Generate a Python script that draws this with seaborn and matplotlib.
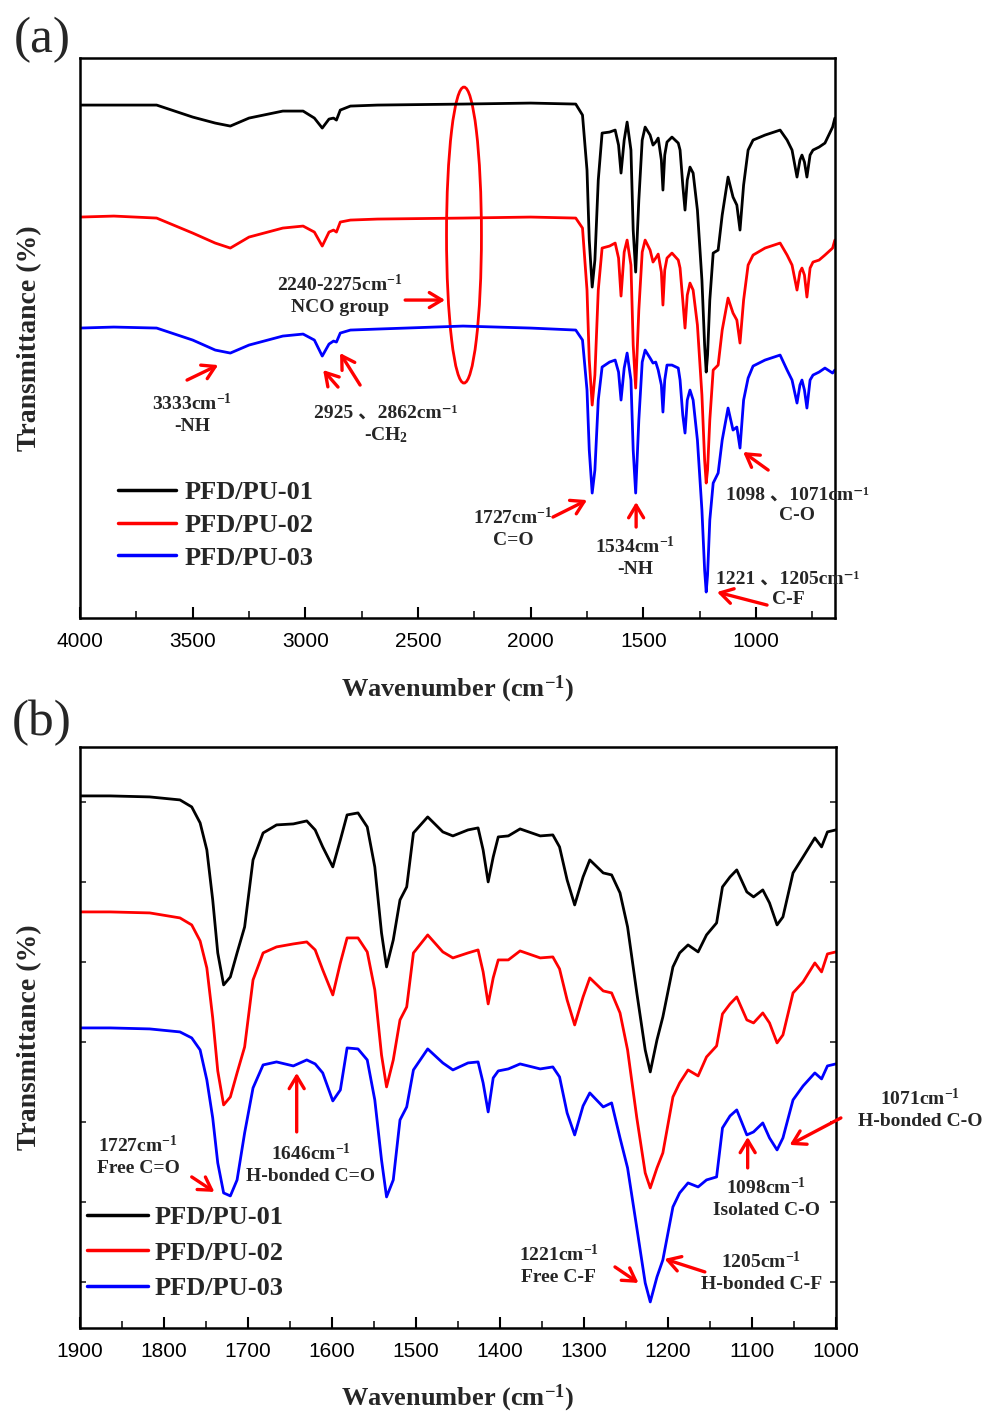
import numpy as np
import pandas as pd
import matplotlib
matplotlib.use('Agg')
import matplotlib.pyplot as plt
import seaborn as sns
from matplotlib.patches import Ellipse
from matplotlib.ticker import MultipleLocator

# FTIR spectra (arbitrary transmittance units, curves stacked)
samples = ['PFD/PU-01', 'PFD/PU-02', 'PFD/PU-03']
colors = ['#000000', '#ff0000', '#0000ff']

# (a) full range 4000-650 cm-1
wn_a = [4000, 3850, 3660, 3500, 3400, 3333, 3250, 3100, 3010, 2960,
        2925, 2895, 2875, 2862, 2845, 2800, 2680, 2300, 2000, 1800,
        1770, 1750, 1740, 1727, 1715, 1700, 1683, 1650, 1625, 1610,
        1599, 1585, 1572, 1555, 1545, 1534, 1520, 1505, 1492, 1470,
        1457, 1445, 1434, 1420, 1413, 1405, 1395, 1373, 1345, 1337,
        1325, 1315, 1305, 1293, 1279, 1260, 1240, 1228, 1221, 1215,
        1205, 1190, 1168, 1150, 1124, 1102, 1085, 1071, 1055, 1035,
        1013, 960, 893, 862, 840, 818, 805, 796, 785, 774,
        760, 747, 720, 694, 660, 650]
t_a_01 = [515, 515, 515, 503, 497, 494, 502, 509, 509, 502,
          492, 501, 502, 500, 510, 514, 515, 516, 517, 516,
          505, 450, 380, 333, 360, 440, 487, 488, 490, 475,
          447, 480, 498, 470, 390, 348, 420, 480, 493, 485,
          475, 478, 482, 460, 430, 465, 478, 483, 477, 470,
          435, 410, 440, 453, 447, 410, 340, 275, 248, 265,
          320, 367, 370, 405, 443, 423, 415, 390, 435, 470,
          480, 485, 490, 480, 470, 443, 460, 465, 458, 443,
          465, 470, 473, 477, 493, 502]
t_a_02 = [403, 404, 402, 387, 377, 372, 383, 392, 394, 388,
          374, 388, 390, 388, 398, 400, 401, 402, 403, 402,
          392, 330, 260, 215, 245, 330, 372, 374, 377, 362,
          324, 368, 380, 355, 275, 232, 310, 368, 380, 370,
          358, 362, 366, 348, 315, 350, 362, 367, 360, 352,
          320, 292, 325, 337, 330, 295, 225, 160, 137, 150,
          200, 250, 255, 290, 322, 307, 300, 277, 320, 355,
          365, 372, 377, 365, 355, 330, 348, 352, 345, 323,
          352, 358, 360, 365, 372, 380]
t_a_03 = [292, 293, 292, 280, 270, 267, 275, 284, 286, 280,
          264, 276, 279, 278, 287, 290, 291, 294, 292, 290,
          280, 230, 170, 127, 150, 220, 253, 258, 260, 248,
          220, 252, 267, 240, 170, 127, 200, 258, 270, 262,
          257, 258, 250, 235, 208, 240, 255, 255, 252, 240,
          205, 187, 220, 230, 220, 180, 110, 50, 28, 45,
          100, 137, 147, 180, 212, 190, 193, 172, 220, 242,
          254, 260, 265, 250, 240, 217, 235, 240, 230, 212,
          240, 245, 248, 252, 247, 250]

# (b) zoom 1900-1000 cm-1
wn_b = [1900, 1864, 1817, 1781, 1767, 1757, 1749, 1742, 1736, 1729,
        1721, 1713, 1704, 1694, 1682, 1666, 1646, 1630, 1620, 1611,
        1599, 1590, 1582, 1569, 1558, 1549, 1541, 1535, 1527, 1519,
        1511, 1503, 1486, 1468, 1456, 1438, 1426, 1420, 1414, 1408,
        1402, 1390, 1376, 1352, 1337, 1329, 1320, 1311, 1301, 1293,
        1277, 1267, 1257, 1248, 1237, 1227, 1221, 1213, 1206, 1194,
        1186, 1176, 1164, 1154, 1142, 1135, 1126, 1118, 1106, 1098,
        1087, 1079, 1070, 1063, 1051, 1039, 1025, 1017, 1010, 1000]
t_b_01 = [532, 532, 531, 528, 521, 505, 478, 428, 375, 343,
          351, 375, 401, 468, 495, 503, 504, 507, 498, 481,
          461, 488, 513, 515, 501, 461, 395, 361, 388, 428,
          441, 495, 511, 496, 492, 498, 500, 478, 446, 471,
          491, 492, 499, 492, 493, 481, 448, 423, 451, 468,
          455, 453, 435, 401, 335, 278, 256, 288, 311, 361,
          375, 383, 376, 393, 405, 441, 451, 458, 436, 431,
          438, 425, 403, 411, 455, 471, 490, 481, 496, 498]
t_b_02 = [416, 416, 415, 410, 403, 387, 360, 310, 257, 223,
          231, 255, 281, 348, 375, 381, 384, 386, 378, 358,
          333, 365, 390, 390, 376, 338, 273, 241, 268, 308,
          321, 375, 393, 376, 370, 375, 378, 356, 324, 350,
          368, 368, 377, 370, 371, 359, 328, 303, 331, 350,
          337, 335, 315, 278, 210, 155, 140, 160, 175, 231,
          245, 258, 252, 271, 282, 314, 324, 331, 308, 305,
          315, 305, 285, 293, 335, 346, 365, 356, 374, 376]
t_b_03 = [300, 300, 299, 296, 290, 278, 248, 210, 165, 135,
          132, 148, 195, 240, 263, 266, 262, 268, 264, 255,
          227, 238, 280, 279, 268, 228, 168, 131, 148, 208,
          221, 258, 279, 265, 258, 265, 266, 245, 216, 250,
          257, 259, 264, 259, 261, 251, 215, 193, 222, 235,
          221, 225, 190, 160, 100, 45, 26, 51, 68, 121,
          135, 145, 141, 148, 151, 200, 212, 218, 193, 196,
          205, 190, 178, 190, 228, 242, 255, 249, 262, 264]


def long_df(wn, series):
    frames = [pd.DataFrame({'Wavenumber': wn, 'T': vals, 'Sample': name})
              for name, vals in zip(samples, series)]
    return pd.concat(frames, ignore_index=True)


df_a = long_df(wn_a, [t_a_01, t_a_02, t_a_03])
df_b = long_df(wn_b, [t_b_01, t_b_02, t_b_03])

sns.set_theme(style='ticks')
plt.rcParams['font.family'] = ['Liberation Sans', 'DejaVu Sans']
plt.rcParams['mathtext.fontset'] = 'custom'
plt.rcParams['mathtext.rm'] = 'Liberation Serif:bold'
plt.rcParams['mathtext.it'] = 'Liberation Serif:italic:bold'
plt.rcParams['mathtext.bf'] = 'Liberation Serif:bold'

SERIF = ['Liberation Serif', 'DejaVu Serif', 'Noto Sans CJK SC']

fig = plt.figure(figsize=(9.88, 14.13), dpi=100)
ax1 = fig.add_axes([0.081, 0.5626, 0.764, 0.3963])
ax2 = fig.add_axes([0.081, 0.0602, 0.765, 0.4112])

for ax, df in [(ax1, df_a), (ax2, df_b)]:
    sns.lineplot(data=df, x='Wavenumber', y='T', hue='Sample', palette=colors,
                 sort=False, estimator=None, lw=2, ax=ax)
    for sp in ax.spines.values():
        sp.set_linewidth(1.8)
        sp.set_color('black')
    ax.tick_params(axis='x', which='major', direction='in', length=8, width=1.5,
                   labelsize=15, pad=10, top=False, bottom=True, colors='black')
    ax.tick_params(axis='x', which='minor', direction='in', length=5, width=1.3,
                   top=False, bottom=True)
    ax.set_xlabel('Wavenumber (cm$^{-1}$)', fontsize=19, fontweight='bold',
                  family=SERIF, labelpad=16)
    ax.set_ylabel('Transmittance (%)', fontsize=20, fontweight='bold',
                  family=SERIF, labelpad=27)

ax1.set_xlim(4000, 650)
ax1.set_ylim(2, 562)
ax1.xaxis.set_major_locator(MultipleLocator(500))
ax1.xaxis.set_minor_locator(MultipleLocator(250))
ax1.set_yticks([])

ax2.set_xlim(1900, 1000)
ax2.set_ylim(0, 581)
ax2.xaxis.set_major_locator(MultipleLocator(100))
ax2.xaxis.set_minor_locator(MultipleLocator(50))
ax2.set_yticks(np.arange(46, 581, 80))
ax2.tick_params(axis='y', direction='in', length=4, width=1.2, left=True,
                right=True, labelleft=False)

leg_font = {'family': SERIF, 'weight': 'bold', 'size': 19}
sns.move_legend(ax1, 'center left', bbox_to_anchor=(0.05, 0.166), frameon=False,
                title=None, prop=leg_font, handlelength=2.2, handletextpad=0.35,
                labelspacing=0.35, borderpad=0, borderaxespad=0)
sns.move_legend(ax2, 'center left', bbox_to_anchor=(0.009, 0.129), frameon=False,
                title=None, prop=leg_font, handlelength=2.3, handletextpad=0.25,
                labelspacing=0.45, borderpad=0, borderaxespad=0)
for ax in (ax1, ax2):
    for h in ax.get_legend().get_lines():
        h.set_linewidth(2.5)

# annotations
ann_kw = dict(ha='center', va='center', fontsize=14, fontweight='bold',
              family=SERIF, linespacing=1.25)
arrow_kw = dict(arrowstyle='->,head_length=0.5,head_width=0.3', color='#ff0000',
                lw=2.4, mutation_scale=18, shrinkA=0, shrinkB=0)

texts_a = [
    ('2240-2275cm$^{-1}$\nNCO group', 2846, 325),
    ('3333cm$^{-1}$\n-NH', 3503, 206),
    ('2925 \u30012862cm\u207b\u00b9\n-CH$_2$', 2642, 195),
    ('1727cm$^{-1}$\nC=O', 2078, 92),
    ('1534cm$^{-1}$\n-NH', 1537, 63),
    ('1098 \u30011071cm\u207b\u00b9\nC-O', 818, 115),
    ('1221 \u30011205cm\u207b\u00b9\nC-F', 858, 31),
]
arrows_a = [
    ((2557, 320), (2380, 320)),
    ((3525, 240), (3387, 255)),
    ((2855, 233), (2921, 250)),
    ((2757, 235), (2846, 267)),
    ((1901, 103), (1750, 120)),
    ((1532, 93), (1532, 118)),
    ((946, 150), (1057, 168)),
    ((951, 15), (1173, 28)),
]
texts_b = [
    ('1727cm$^{-1}$\nFree C=O', 1831, 172),
    ('1646cm$^{-1}$\nH-bonded C=O', 1625, 164),
    ('1098cm$^{-1}$\nIsolated C-O', 1083, 130),
    ('1071cm$^{-1}$\nH-bonded C-O', 900, 219),
    ('1221cm$^{-1}$\nFree C-F', 1330, 63),
    ('1205cm$^{-1}$\nH-bonded C-F', 1089, 56),
]
arrows_b = [
    ((1767, 151), (1740, 136)),
    ((1642, 196), (1642, 255)),
    ((1105, 160), (1105, 191)),
    ((994, 210), (1055, 183)),
    ((1263, 61), (1235, 45)),
    ((1156, 56), (1204, 69)),
]

for ax, texts, arrows in [(ax1, texts_a, arrows_a), (ax2, texts_b, arrows_b)]:
    for s, x, y in texts:
        ax.text(x, y, s, clip_on=False, **ann_kw)
    for tail, head in arrows:
        ax.annotate('', xy=head, xytext=tail, arrowprops=arrow_kw)

ax1.add_patch(Ellipse((2296, 385), 155, 296, fill=False, ec='#ff0000', lw=2))

fig.text(0.043, 0.972, '(a)', fontsize=37, family=SERIF, ha='center', va='center')
fig.text(0.042, 0.4885, '(b)', fontsize=37, family=SERIF, ha='center', va='center')

fig.savefig('out.png', dpi=100, facecolor='white')
